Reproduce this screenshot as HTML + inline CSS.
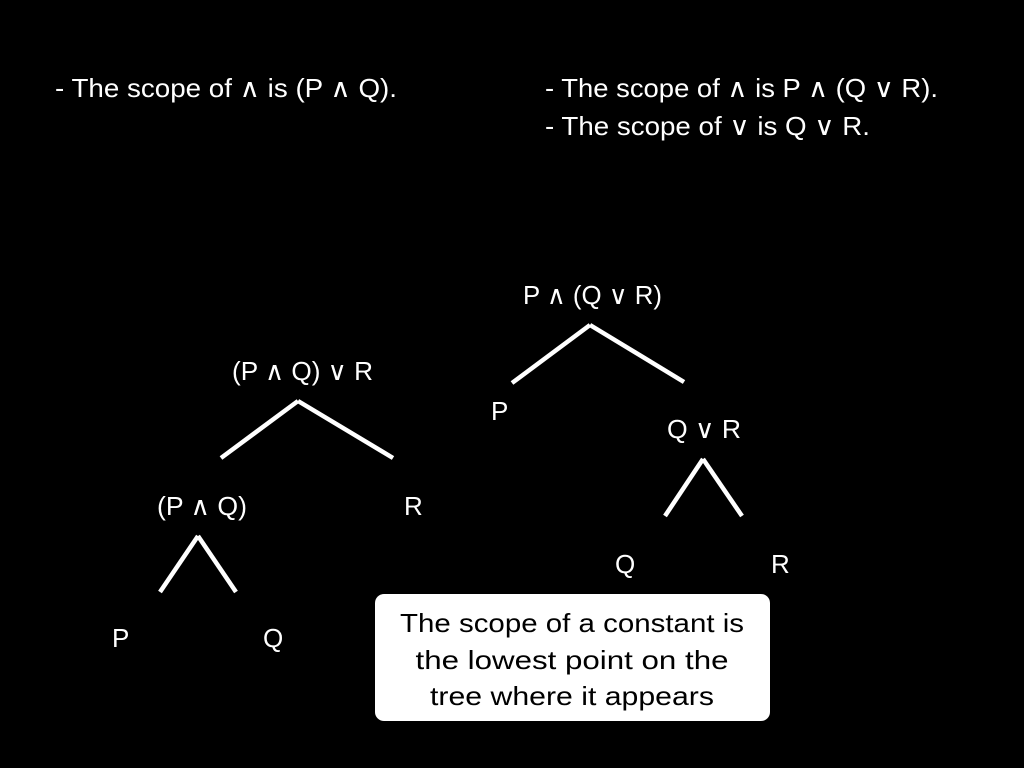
<!DOCTYPE html>
<html><head><meta charset="utf-8"><style>
html,body{margin:0;padding:0;background:#000;width:1024px;height:768px;overflow:hidden}
svg text{font-family:"Liberation Sans",sans-serif;fill:#fff;font-size:26px}
</style></head><body>
<svg width="1024" height="768" viewBox="0 0 1024 768">
<rect width="1024" height="768" fill="#000"/>
<text x="55" y="97" textLength="342" lengthAdjust="spacingAndGlyphs">- The scope of ∧ is (P ∧ Q).</text>
<text x="545" y="97" textLength="393" lengthAdjust="spacingAndGlyphs">- The scope of ∧ is P ∧ (Q ∨ R).</text>
<text x="545" y="135" textLength="325" lengthAdjust="spacingAndGlyphs">- The scope of ∨ is Q ∨ R.</text>
<g stroke="#fff" stroke-width="4.5" stroke-linecap="butt">
<line x1="298" y1="401" x2="221" y2="458"/><line x1="298" y1="401" x2="393" y2="458"/>
<line x1="198" y1="536" x2="160" y2="592"/><line x1="198" y1="536" x2="236" y2="592"/>
<line x1="590" y1="325" x2="512" y2="383"/><line x1="590" y1="325" x2="684" y2="382"/>
<line x1="703" y1="459" x2="665" y2="516"/><line x1="703" y1="459" x2="742" y2="516"/>
</g>
<text x="232" y="380" textLength="141" lengthAdjust="spacingAndGlyphs">(P ∧ Q) ∨ R</text>
<text x="157" y="515" textLength="90" lengthAdjust="spacingAndGlyphs">(P ∧ Q)</text>
<text x="404" y="515">R</text>
<text x="112" y="647">P</text>
<text x="263" y="647">Q</text>
<text x="523" y="304" textLength="139" lengthAdjust="spacingAndGlyphs">P ∧ (Q ∨ R)</text>
<text x="491" y="420">P</text>
<text x="667" y="438" textLength="74" lengthAdjust="spacingAndGlyphs">Q ∨ R</text>
<text x="615" y="573">Q</text>
<text x="771" y="573">R</text>
<g>
<rect x="375" y="594" width="395" height="127" rx="9" fill="#fff"/>
<text x="572" y="632" text-anchor="middle" textLength="344" lengthAdjust="spacingAndGlyphs" style="fill:#000">The scope of a constant is</text>
<text x="572" y="669" text-anchor="middle" textLength="313" lengthAdjust="spacingAndGlyphs" style="fill:#000">the lowest point on the</text>
<text x="572" y="705" text-anchor="middle" textLength="284" lengthAdjust="spacingAndGlyphs" style="fill:#000">tree where it appears</text>
</g>
</svg>
</body></html>
